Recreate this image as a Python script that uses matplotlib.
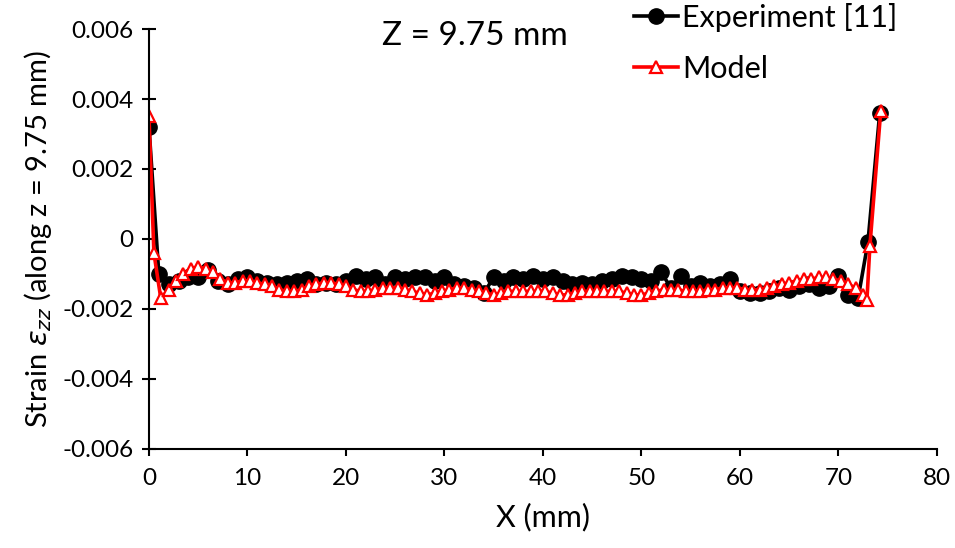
import numpy as np
import matplotlib
matplotlib.use("Agg")
import matplotlib.pyplot as plt

plt.rcParams['font.family'] = ['Lato', 'DejaVu Sans']
plt.rcParams['mathtext.fontset'] = 'dejavusans'

# Measured strain along the line (x in mm, strain x 1e-3)
x_exp = [0, 1, 2, 3, 4, 5, 6, 7, 8, 9, 10, 11, 12, 13, 14, 15, 16, 17, 18, 19,
         20, 21, 22, 23, 24, 25, 26, 27, 28, 29, 30, 31, 32, 33, 34, 35, 36, 37,
         38, 39, 40, 41, 42, 43, 44, 45, 46, 47, 48, 49, 50, 51, 52, 53, 54, 55,
         56, 57, 58, 59, 60, 61, 62, 63, 64, 65, 66, 67, 68, 69, 70, 71, 72, 73, 74.2]
e_exp = [3.2, -1.0, -1.3, -1.2, -1.1, -1.1, -0.9, -1.2, -1.3, -1.15, -1.1, -1.2,
         -1.25, -1.3, -1.25, -1.2, -1.15, -1.3, -1.25, -1.3, -1.2, -1.05, -1.15,
         -1.1, -1.3, -1.1, -1.15, -1.1, -1.1, -1.2, -1.1, -1.3, -1.35, -1.4, -1.55,
         -1.1, -1.2, -1.1, -1.15, -1.05, -1.15, -1.1, -1.2, -1.3, -1.25, -1.3, -1.2,
         -1.15, -1.05, -1.1, -1.15, -1.2, -0.95, -1.4, -1.05, -1.35, -1.25, -1.35,
         -1.3, -1.15, -1.5, -1.55, -1.55, -1.5, -1.4, -1.45, -1.35, -1.3, -1.4,
         -1.35, -1.05, -1.6, -1.7, -0.1, 3.6]

# Model prediction
x_mod = [0, 0.5, 1.2, 2.0, 2.75, 3.5, 4.25, 5.0, 5.75, 6.5, 7.25, 8.0, 8.75, 9.5,
         10.25, 11.0, 11.75, 12.5, 13.25, 14.0, 14.75, 15.5, 16.25, 17.0, 17.75,
         18.5, 19.25, 20.0, 20.75, 21.5, 22.25, 23.0, 23.75, 24.5, 25.25, 26.0,
         26.75, 27.5, 28.25, 29.0, 29.75, 30.5, 31.25, 32.0, 32.75, 33.5, 34.25,
         35.0, 35.75, 36.5, 37.25, 38.0, 38.75, 39.5, 40.25, 41.0, 41.75, 42.5,
         43.25, 44.0, 44.75, 45.5, 46.25, 47.0, 47.75, 48.5, 49.25, 50.0, 50.75,
         51.5, 52.25, 53.0, 53.75, 54.5, 55.25, 56.0, 56.75, 57.5, 58.25, 59.0,
         59.75, 60.5, 61.25, 62.0, 62.75, 63.5, 64.25, 65.0, 65.75, 66.5, 67.25,
         68.0, 68.75, 69.5, 70.25, 71.0, 71.75, 72.5, 72.9, 73.2, 74.3]
e_mod = [3.5, -0.4, -1.7, -1.45, -1.2, -1.0, -0.85, -0.8, -0.85, -0.95, -1.15,
         -1.25, -1.25, -1.2, -1.2, -1.25, -1.3, -1.35, -1.45, -1.5, -1.5, -1.45,
         -1.35, -1.3, -1.25, -1.25, -1.3, -1.35, -1.45, -1.5, -1.5, -1.45, -1.4,
         -1.4, -1.4, -1.45, -1.5, -1.55, -1.6, -1.55, -1.5, -1.45, -1.4, -1.4,
         -1.45, -1.5, -1.55, -1.6, -1.55, -1.5, -1.5, -1.5, -1.5, -1.5, -1.5,
         -1.55, -1.6, -1.6, -1.55, -1.5, -1.5, -1.5, -1.5, -1.5, -1.5, -1.55,
         -1.6, -1.6, -1.55, -1.5, -1.45, -1.45, -1.45, -1.5, -1.5, -1.5, -1.45,
         -1.45, -1.4, -1.4, -1.4, -1.45, -1.45, -1.45, -1.4, -1.35, -1.3, -1.25,
         -1.2, -1.15, -1.15, -1.1, -1.1, -1.15, -1.2, -1.3, -1.4, -1.6, -1.75,
         -0.2, 3.65]

x_exp = np.array(x_exp)
e_exp = np.array(e_exp) * 1e-3
x_mod = np.array(x_mod)
e_mod = np.array(e_mod) * 1e-3

fig = plt.figure(figsize=(9.55, 5.48), dpi=100)
ax = fig.add_axes([0.156, 0.181, 0.825, 0.766])

ax.plot(x_exp, e_exp, color='black', lw=2.6, marker='o', ms=11,
        label='Experiment [11]')
ax.plot(x_mod, e_mod, color='red', lw=2.6, marker='^', ms=9,
        markerfacecolor='white', markeredgecolor='red', markeredgewidth=1.6,
        label='Model')

ax.set_xlim(0, 80)
ax.set_ylim(-0.006, 0.006)
ax.set_xticks(np.arange(0, 81, 10))
ax.set_yticks([-0.006, -0.004, -0.002, 0, 0.002, 0.004, 0.006])
ax.set_yticklabels(['-0.006', '-0.004', '-0.002', '0', '0.002', '0.004', '0.006'])

for s in ['top', 'right']:
    ax.spines[s].set_visible(False)
for s in ['left', 'bottom']:
    ax.spines[s].set_linewidth(1.5)
ax.tick_params(axis='y', direction='inout', length=10, width=1.5, labelsize=17.5, pad=6)
ax.tick_params(axis='x', direction='out', length=5, width=1.5, labelsize=17.5, pad=9)

ax.set_xlabel('X (mm)', fontsize=22, labelpad=10)
ax.set_ylabel(r'Strain $\varepsilon_{zz}$ (along z = 9.75 mm)', fontsize=21, labelpad=6)

fig.text(0.497, 0.935, 'Z = 9.75 mm', fontsize=24, ha='center', va='center')

ax.legend(loc='upper left', bbox_to_anchor=(0.615, 1.062), frameon=False,
          fontsize=22, handlelength=1.45, handletextpad=0.15, labelspacing=0.75,
          borderaxespad=0, borderpad=0)

fig.savefig('out.png', dpi=100)
